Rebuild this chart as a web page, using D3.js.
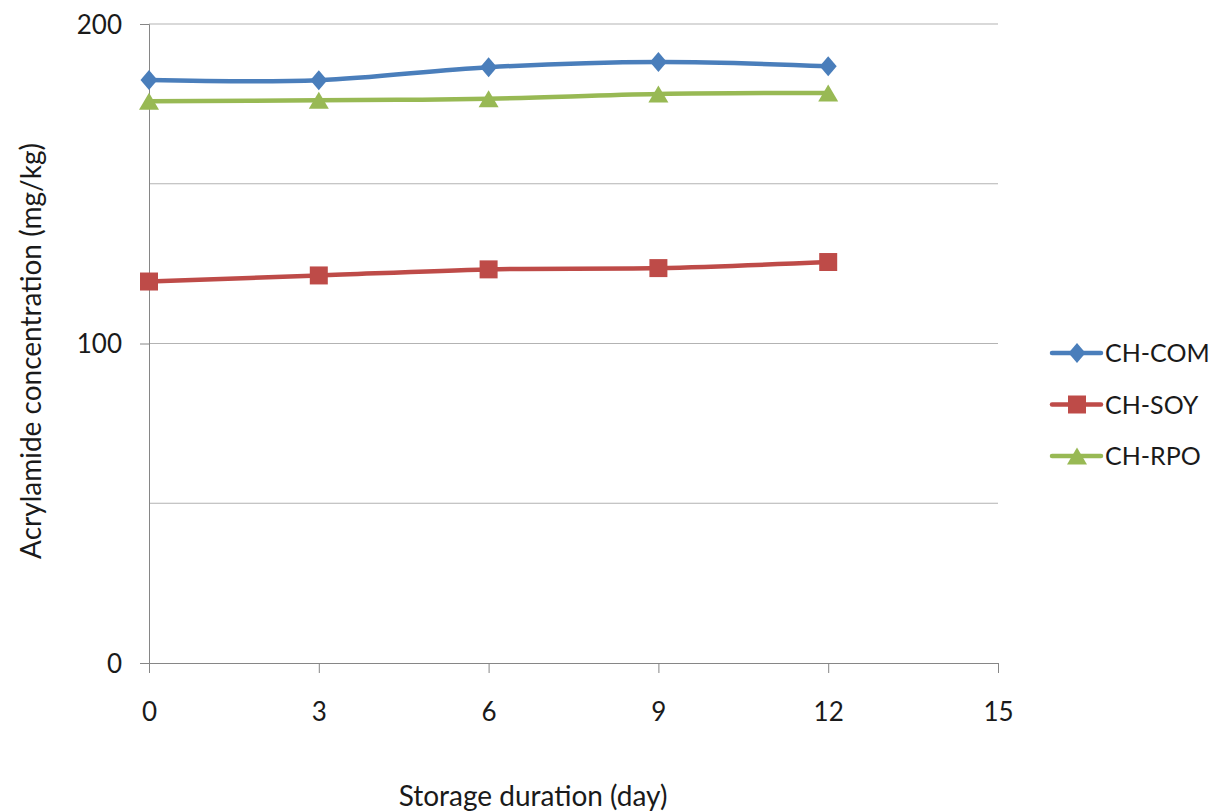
<!DOCTYPE html>
<html><head><meta charset="utf-8">
<script src="https://cdn.jsdelivr.net/npm/d3@7"></script>
<style>body{margin:0;background:#fff;} text{font-family:Lato,"Open Sans",sans-serif;fill:#1a1a1a;}</style>
</head><body>
<svg id="c" width="1216" height="812"></svg>
<script>
const days = [0, 3, 6, 9, 12];
const seriesNames = ["CH-COM", "CH-SOY", "CH-RPO"];
const comValues = [182.5, 182.4, 186.5, 188.1, 186.8];
const soyValues = [119.4, 121.3, 123.2, 123.6, 125.5];
const rpoValues = [175.8, 176.1, 176.6, 178.1, 178.4];
const xTicks = [0, 3, 6, 9, 12, 15];
const yLabelTicks = [0, 100, 200];
const yGridTicks = [0, 50, 100, 150, 200];

const colors = ["#4a7ebb", "#be4b48", "#98b954"];
const allValues = [comValues, soyValues, rpoValues];

// marker paths centred on their bounding box
const markerPath = [
  "M0,-10L8.5,0L0,10L-8.5,0Z",
  "M-9,-9H9V9H-9Z",
  "M0,-8.5L10,8.5H-10Z"
];

const svg = d3.select("#c");
const L = 149, R = 998, T = 24, B = 663;
const x = d3.scaleLinear().domain([0, 15]).range([L, R]);
const y = d3.scaleLinear().domain([0, 200]).range([B, T]);

// gridlines
svg.append("g").selectAll("line").data(yGridTicks.filter(d => d > 0)).join("line")
  .attr("x1", L).attr("x2", R).attr("y1", d => y(d)).attr("y2", d => y(d))
  .attr("stroke", "#b3b3b3").attr("stroke-width", 1);

// y axis
const yAxis = svg.append("g").attr("transform", `translate(${L},0)`)
  .call(d3.axisLeft(y).tickValues(yLabelTicks).tickSize(9).tickPadding(18).tickFormat(d3.format("d")));
yAxis.select(".domain").attr("stroke", "#868686");
yAxis.selectAll(".tick line").attr("stroke", "#868686");
yAxis.selectAll(".tick text").style("font-size", "26px").attr("fill", "#1a1a1a").attr("dy", "0.36em");

// x axis
const xAxis = svg.append("g").attr("transform", `translate(0,${B})`)
  .call(d3.axisBottom(x).tickValues(xTicks).tickSize(10).tickPadding(30).tickFormat(d3.format("d")));
xAxis.select(".domain").attr("stroke", "#868686");
xAxis.selectAll(".tick line").attr("stroke", "#868686");
xAxis.selectAll(".tick text").style("font-size", "26px").attr("fill", "#1a1a1a");

// series
const line = d3.line().x((d, i) => x(days[i])).y(d => y(d)).curve(d3.curveCatmullRom.alpha(0.5));
allValues.forEach((vals, s) => {
  svg.append("path").datum(vals).attr("d", line)
    .attr("fill", "none").attr("stroke", colors[s]).attr("stroke-width", 4.5).attr("stroke-linecap", "round");
  svg.append("g").selectAll("path").data(vals).join("path")
    .attr("transform", (d, i) => `translate(${x(days[i])},${y(d)})`)
    .attr("d", markerPath[s])
    .attr("fill", colors[s]);
});

// legend
const lg = svg.append("g");
seriesNames.forEach((name, s) => {
  const ly = 353 + s * 51.5;
  lg.append("line").attr("x1", 1052).attr("x2", 1101).attr("y1", ly).attr("y2", ly)
    .attr("stroke", colors[s]).attr("stroke-width", 4.5).attr("stroke-linecap", "round");
  lg.append("path").attr("transform", `translate(1077,${ly})`)
    .attr("d", markerPath[s]).attr("fill", colors[s]);
  lg.append("text").attr("x", 1105).attr("y", ly).attr("dy", "0.36em")
    .style("font-size", "25px").text(name);
});

// axis titles
svg.append("text").attr("x", 533).attr("y", 806).attr("text-anchor", "middle")
  .style("font-size", "28px").text("Storage duration (day)");
svg.append("text").attr("transform", "translate(41,351) rotate(-90)").attr("text-anchor", "middle")
  .style("font-size", "28px").text("Acrylamide concentration (mg/kg)");
</script>
</body></html>
